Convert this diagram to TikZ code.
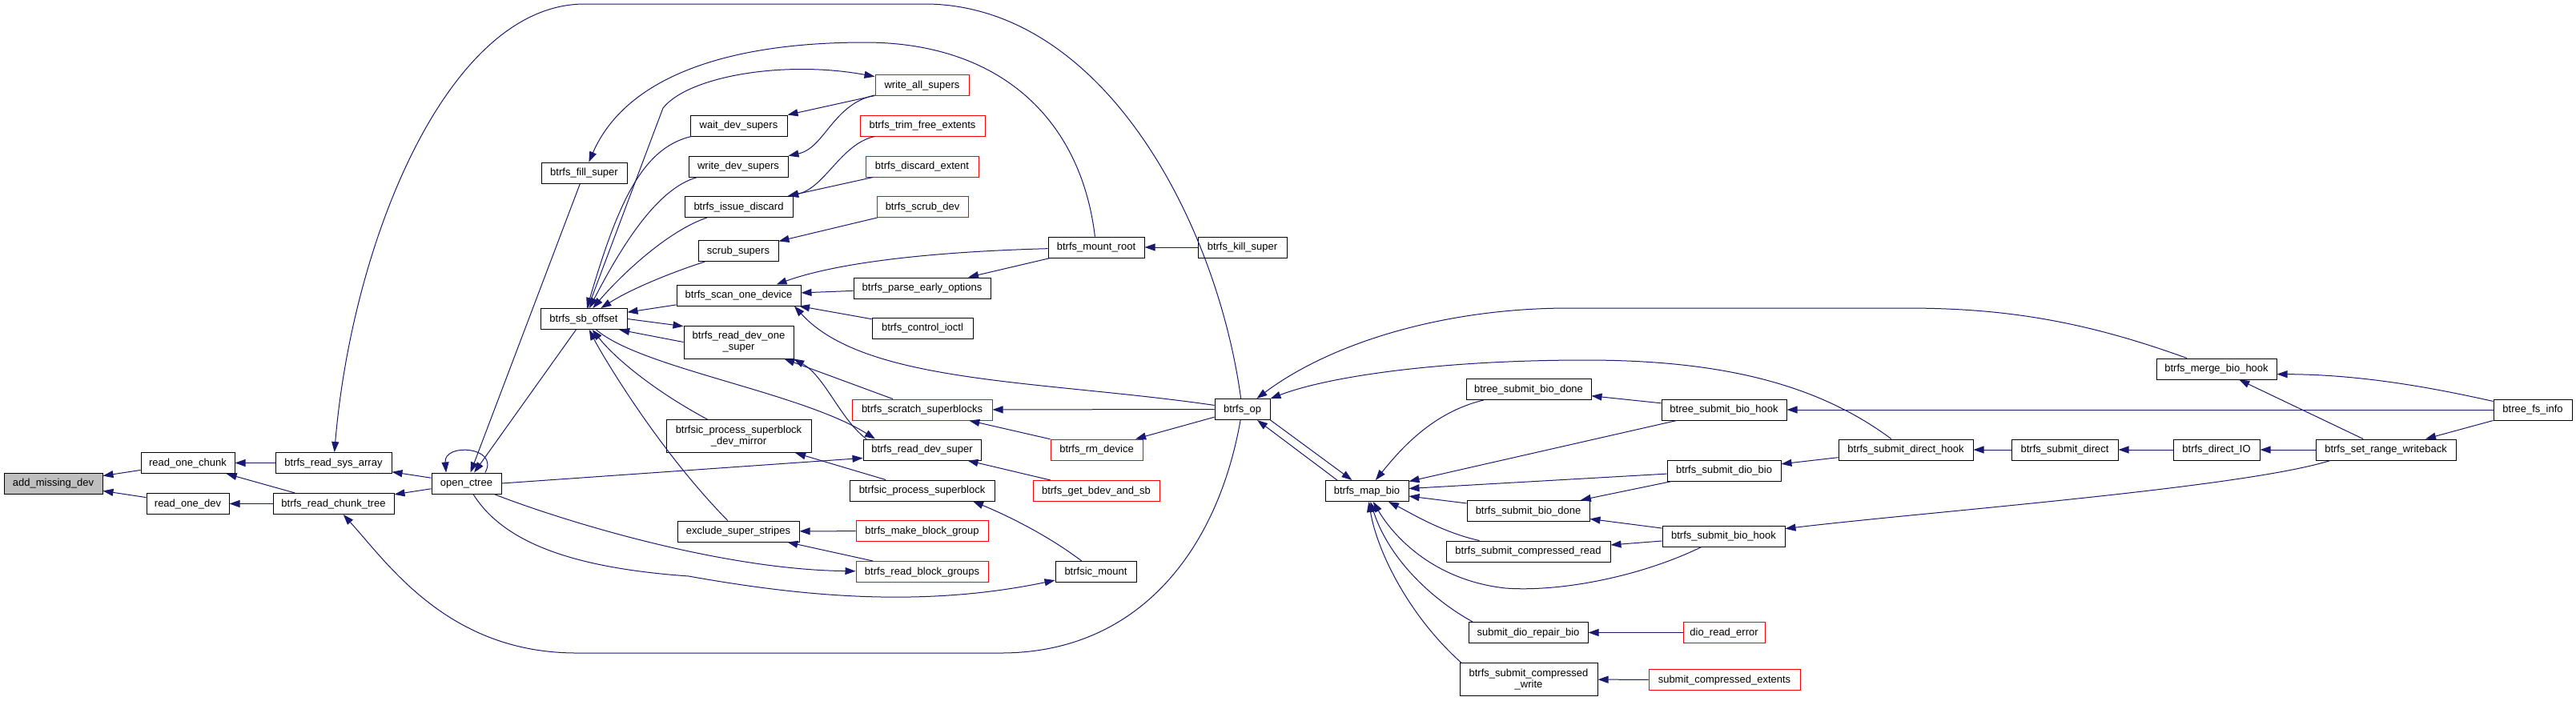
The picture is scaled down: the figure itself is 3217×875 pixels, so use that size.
\documentclass[tikz,border=0pt]{standalone}
\usepackage{fontspec}
\setmainfont{Liberation Sans}
\usetikzlibrary{arrows.meta}
\definecolor{edgeblue}{HTML}{191970}
\definecolor{greyfill}{HTML}{BFBFBF}
\begin{document}
\begin{tikzpicture}[x=0.5pt,y=-0.5pt,
  fn/.style={draw=black, line width=0.5pt, fill=white, rectangle, inner sep=0pt, minimum height=13pt, font=\fontsize{6.5pt}{7pt}\selectfont, text height=4.8pt, text depth=1.2pt},
  fntwo/.style={draw=black, line width=0.5pt, fill=white, rectangle, inner sep=0pt, minimum height=20.5pt, align=center, font=\fontsize{6.5pt}{7pt}\selectfont},
  trunc/.style={draw=red},
  root/.style={fill=greyfill},
  wd/.style={minimum width=#1*0.5pt},
  edge/.style={draw=edgeblue, line width=0.5pt, -{Triangle[length=6.5pt,width=4.5pt]}},
]
\fill[white] (0,0) rectangle (3217,875);
\useasboundingbox (0,0) rectangle (3217,875);

% nodes
\node[fn, wd=123, root] (amd) at (66.5,604) {add\_missing\_dev};
\node[fn, wd=117] (roc) at (234.5,578.5) {read\_one\_chunk};
\node[fn, wd=103] (rod) at (234.5,629.5) {read\_one\_dev};
\node[fn, wd=145] (rsa) at (416.5,578.5) {btrfs\_read\_sys\_array};
\node[fn, wd=151] (rct) at (416.5,629.5) {btrfs\_read\_chunk\_tree};
\node[fn, wd=87] (oct) at (582.5,604) {open\_ctree};
\node[fn, wd=107] (fsu) at (729.5,216) {btrfs\_fill\_super};
\node[fn, wd=108] (sbo) at (729,398.5) {btrfs\_sb\_offset};
\node[fn, wd=121] (wds) at (922.5,157) {wait\_dev\_supers};
\node[fn, wd=124] (wrds) at (922,208) {write\_dev\_supers};
\node[fn, wd=135] (isd) at (922.5,258.5) {btrfs\_issue\_discard};
\node[fn, wd=100] (scs) at (922,313.5) {scrub\_supers};
\node[fn, wd=155] (sod) at (922.5,369) {btrfs\_scan\_one\_device};
\node[fntwo, wd=137] (rdo) at (922.5,427.5) {btrfs\_read\_dev\_one\\\_super};
\node[fntwo, wd=181] (psdm) at (922.5,545) {btrfsic\_process\_superblock\\\_dev\_mirror};
\node[fn, wd=152] (ess) at (922,664) {exclude\_super\_stripes};
\node[fn, wd=117, trunc] (was) at (1151.5,106.5) {write\_all\_supers};
\node[fn, wd=156, trunc] (tfe) at (1152,157) {btrfs\_trim\_free\_extents};
\node[fn, wd=141, trunc] (dex) at (1151.5,208) {btrfs\_discard\_extent};
\node[fn, wd=114, trunc] (srd) at (1152,258.5) {btrfs\_scrub\_dev};
\node[fn, wd=171] (peo) at (1151.5,360) {btrfs\_parse\_early\_options};
\node[fn, wd=126] (cio) at (1152,410) {btrfs\_control\_ioctl};
\node[fn, wd=175, trunc] (ssb) at (1151.5,512) {btrfs\_scratch\_superblocks};
\node[fn, wd=147] (rds) at (1151.5,562) {btrfs\_read\_dev\_super};
\node[fn, wd=181] (psb) at (1151.5,613) {btrfsic\_process\_superblock};
\node[fn, wd=165, trunc] (mbg) at (1151.5,663.5) {btrfs\_make\_block\_group};
\node[fn, wd=165, trunc] (rbg) at (1151.5,714.5) {btrfs\_read\_block\_groups};
\node[fn, wd=120] (mro) at (1369,309) {btrfs\_mount\_root};
\node[fn, wd=115, trunc] (rmd) at (1369.5,562) {btrfs\_rm\_device};
\node[fn, wd=158, trunc] (gbs) at (1369,613.5) {btrfs\_get\_bdev\_and\_sb};
\node[fn, wd=101] (bmt) at (1368.5,714.5) {btrfsic\_mount};
\node[fn, wd=111] (ksu) at (1551.5,309) {btrfs\_kill\_super};
\node[fn, wd=69] (bop) at (1551.5,511.5) {btrfs\_op};
\node[fn, wd=104] (mbi) at (1707,613.5) {btrfs\_map\_bio};
\node[fn, wd=156] (tsbd) at (1909,486.5) {btree\_submit\_bio\_done};
\node[fn, wd=153] (sbd) at (1908.5,638.5) {btrfs\_submit\_bio\_done};
\node[fn, wd=205] (scr) at (1908.5,689) {btrfs\_submit\_compressed\_read};
\node[fn, wd=149] (sdr) at (1908.5,790.5) {submit\_dio\_repair\_bio};
\node[fntwo, wd=172] (scw) at (1909,849) {btrfs\_submit\_compressed\\\_write};
\node[fn, wd=156] (tsbh) at (2153,512) {btree\_submit\_bio\_hook};
\node[fn, wd=142] (sdb) at (2153,588) {btrfs\_submit\_dio\_bio};
\node[fn, wd=153] (sbh) at (2152.5,670) {btrfs\_submit\_bio\_hook};
\node[fn, wd=102, trunc] (dre) at (2153,790.5) {dio\_read\_error};
\node[fn, wd=189, trunc] (sce) at (2153.5,849.5) {submit\_compressed\_extents};
\node[fn, wd=168] (sdh) at (2380,562) {btrfs\_submit\_direct\_hook};
\node[fn, wd=133] (sdi) at (2578.5,562) {btrfs\_submit\_direct};
\node[fn, wd=150] (mbh) at (2768,461) {btrfs\_merge\_bio\_hook};
\node[fn, wd=108] (dio) at (2768,562) {btrfs\_direct\_IO};
\node[fn, wd=175] (srw) at (2979.5,562) {btrfs\_set\_range\_writeback};
\node[fn, wd=98] (bfi) at (3163,512) {btree\_fs\_info};

% edges, left part
\draw[edge] (roc) -- (amd);
\draw[edge] (rod) -- (amd);
\draw[edge] (rsa) -- (roc);
\draw[edge] (rct) -- (roc);
\draw[edge] (rct) -- (rod);
\draw[edge] (oct) -- (rsa);
\draw[edge] (oct) -- (rct);
\draw[edge] (oct.30) .. controls (624,558) and (554,553) .. (oct.152);
\draw[edge] (fsu) -- (oct);
\draw[edge] (sbo) -- (oct);
\draw[edge] (bop) .. controls (1520,280) and (1380,10) .. (1160,5) -- (730,5) .. controls (560,5) and (440,300) .. (rsa);
\draw[edge] (bop) .. controls (1520,690) and (1420,816) .. (1250,816) -- (720,816) .. controls (560,816) and (485,705) .. (rct);
\draw[edge] (mro) .. controls (1350,150) and (1250,53) .. (1080,53) .. controls (900,53) and (780,100) .. (fsu);
\draw[edge] (ksu) -- (mro);
\draw[edge] (mro) .. controls (1150,315) and (1040,330) .. (sod.16);
\draw[edge] (mro) -- (peo);
\draw[edge] (peo) -- (sod);
\draw[edge] (cio) -- (sod);
\draw[edge] (bop) .. controls (1300,475) and (1080,480) .. (sod.-11);
\draw[edge] (sod) -- (sbo);
\draw[edge] (wds) .. controls (800,185) and (770,260) .. (sbo);
\draw[edge] (wrds) .. controls (820,235) and (775,310) .. (sbo);
\draw[edge] (isd) .. controls (830,290) and (770,350) .. (sbo);
\draw[edge] (scs) .. controls (840,340) and (790,360) .. (sbo);
\draw[edge] (sbo) -- (828,135) .. controls (860,95) and (980,75) .. (was);
\draw[edge] (was) -- (wds);
\draw[edge] (was) .. controls (1040,130) and (1030,185) .. (wrds);
\draw[edge] (tfe) .. controls (1050,180) and (1030,235) .. (isd);
\draw[edge] (dex) -- (isd);
\draw[edge] (srd) -- (scs);
\draw[edge] (sbo.east) -- (rdo.164);
\draw[edge] (rdo.west) -- (sbo.-17);
\draw[edge] (psdm) .. controls (820,490) and (770,450) .. (sbo);
\draw[edge] (ess) .. controls (820,560) and (750,440) .. (sbo);
\draw[edge] (sbo) .. controls (800,460) and (1000,490) .. (rds.167);
\draw[edge] (rds.169) .. controls (1050,525) and (1030,470) .. (rdo.-17);
\draw[edge] (ssb) -- (rdo);
\draw[edge] (bop) -- (ssb);
\draw[edge] (rmd) -- (ssb);
\draw[edge] (bop) -- (rmd);
\draw[edge] (oct.east) -- (rds.188);
\draw[edge] (gbs) -- (rds);
\draw[edge] (psb) -- (psdm);
\draw[edge] (bmt) .. controls (1310,670) and (1260,645) .. (psb.-12);
\draw[edge] (oct) .. controls (630,680) and (720,710) .. (860,720) .. controls (1000,745) and (1150,760) .. (bmt);
\draw[edge] (mbg) -- (ess);
\draw[edge] (rbg) -- (ess);
\draw[edge] (oct) .. controls (700,650) and (900,712) .. (rbg);

% edges, right part
\draw[edge] (mbh) .. controls (2600,400) and (2500,385) .. (2380,385) -- (1960,385) .. controls (1800,385) and (1660,430) .. (bop);
\draw[edge] (sdh) .. controls (2270,480) and (2150,450) .. (1980,450) .. controls (1800,450) and (1660,470) .. (bop);
\draw[edge] (mbi.160) -- (bop.-36);
\draw[edge] (bop.-21) -- (mbi.144);
\draw[edge] (tsbd) .. controls (1790,515) and (1750,560) .. (mbi);
\draw[edge] (tsbh) -- (mbi);
\draw[edge] (sdb) -- (mbi);
\draw[edge] (sbd) -- (mbi);
\draw[edge] (scr) .. controls (1800,665) and (1760,640) .. (mbi);
\draw[edge] (sbh) .. controls (2050,720) and (1950,740) .. (1880,735) .. controls (1790,725) and (1740,670) .. (mbi);
\draw[edge] (sdr.169) .. controls (1790,750) and (1735,700) .. (mbi);
\draw[edge] (scw.166) .. controls (1760,770) and (1720,690) .. (mbi);
\draw[edge] (tsbh) -- (tsbd);
\draw[edge] (bfi) -- (tsbh);
\draw[edge] (bfi.168) .. controls (3040,485) and (2950,468) .. (mbh.-5);
\draw[edge] (bfi) -- (srw);
\draw[edge] (srw) -- (mbh);
\draw[edge] (srw) -- (dio);
\draw[edge] (dio) -- (sdi);
\draw[edge] (sdi) -- (sdh);
\draw[edge] (sdh) -- (sdb);
\draw[edge] (srw.191) .. controls (2800,610) and (2400,640) .. (sbh);
\draw[edge] (sdb) -- (sbd);
\draw[edge] (sbh) -- (sbd);
\draw[edge] (sbh) -- (scr);
\draw[edge] (dre) -- (sdr);
\draw[edge] (sce) -- (scw);
\end{tikzpicture}
\end{document}
